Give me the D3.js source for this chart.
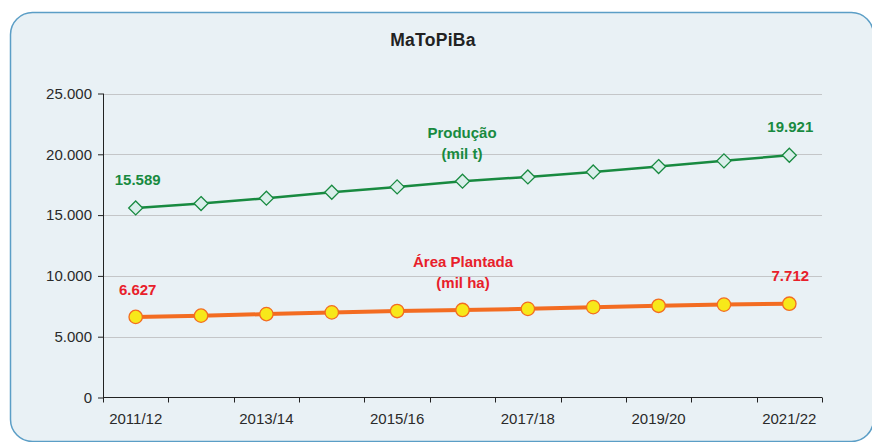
<!DOCTYPE html>
<html><head><meta charset="utf-8">
<script src="https://cdn.jsdelivr.net/npm/d3@7"></script>
<style>body{margin:0;background:#fff;} svg{display:block;font-family:"Liberation Sans",Arial,sans-serif;}</style>
</head><body>
<svg id="c" width="872" height="442"></svg>
<script>
const categories = ["2011/12","2012/13","2013/14","2014/15","2015/16","2016/17","2017/18","2018/19","2019/20","2020/21","2021/22"];
const tickLabels = ["2011/12","2013/14","2015/16","2017/18","2019/20","2021/22"];
const producao = [15589,15950,16390,16880,17320,17790,18140,18550,18990,19460,19921];
const area = [6627,6730,6860,7000,7110,7200,7290,7430,7540,7640,7712];
const yTicks = [0,5000,10000,15000,20000,25000];

const svg = d3.select("#c");
svg.append("rect").attr("x",10.5).attr("y",12.5).attr("width",863).attr("height",429).attr("rx",22)
  .attr("fill","#e9f1f5").attr("stroke","#5b9ec6").attr("stroke-width",1.5);

const x = d3.scaleBand().domain(categories).range([103,822]);
const y = d3.scaleLinear().domain([0,25000]).range([397.5,93.5]);
const fmt = v => d3.format(",")(v).replace(/,/g,".");
const cx = c => x(c) + x.bandwidth()/2;

// gridlines
svg.append("g").selectAll("line").data(yTicks.filter(d=>d>0)).join("line")
  .attr("x1",103).attr("x2",822).attr("y1",d=>Math.round(y(d))+0.5).attr("y2",d=>Math.round(y(d))+0.5)
  .attr("stroke","#c4c6c8").attr("stroke-width",1);

// y axis
const ya = svg.append("g").attr("transform","translate(103,0)")
  .call(d3.axisLeft(y).tickValues(yTicks).tickSize(5).tickPadding(6).tickFormat(fmt));
ya.select(".domain").attr("stroke","#222").attr("d","M0.5,93.5V397.5");
ya.selectAll(".tick line").attr("stroke","#222");
ya.selectAll("text").attr("font-size",15).attr("fill","#2a2a2a").attr("font-family","Liberation Sans, Arial, sans-serif");

// x axis
const xa = svg.append("g").attr("transform","translate(0,397.5)");
xa.append("line").attr("x1",103).attr("x2",822).attr("stroke","#222");
const bounds = categories.map(c=>x(c)).concat([x.range()[1]]);
xa.selectAll("line.t").data(bounds).join("line").attr("class","t")
  .attr("x1",d=>Math.round(d)+0.5).attr("x2",d=>Math.round(d)+0.5).attr("y1",0).attr("y2",5).attr("stroke","#222");
xa.selectAll("text").data(tickLabels).join("text")
  .attr("x",d=>cx(d)).attr("y",26.5).attr("text-anchor","middle").attr("font-size",15).attr("fill","#2a2a2a").text(d=>d);

// title
svg.append("text").attr("x",433).attr("y",46).attr("text-anchor","middle").attr("font-size",17.5)
  .attr("font-weight","bold").attr("fill","#222").attr("letter-spacing",0.3).text("MaToPiBa");

const line = d3.line().x((d,i)=>cx(categories[i])).y(d=>y(d));

// Produção
svg.append("path").datum(producao).attr("d",line).attr("fill","none").attr("stroke","#188a40").attr("stroke-width",2.5);
svg.append("g").selectAll("path").data(producao).join("path")
  .attr("transform",(d,i)=>`translate(${cx(categories[i])},${y(d)})`)
  .attr("d","M0,-7L7,0L0,7L-7,0Z").attr("fill","#d9eeea").attr("stroke","#188a40").attr("stroke-width",1.3);

// Área
svg.append("path").datum(area).attr("d",line).attr("fill","none").attr("stroke","#f36c21").attr("stroke-width",4);
svg.append("g").selectAll("circle").data(area).join("circle")
  .attr("cx",(d,i)=>cx(categories[i])).attr("cy",d=>y(d)).attr("r",6.7)
  .attr("fill","#f7e81a").attr("stroke","#f36c21").attr("stroke-width",1.3);

// labels
const lab = (t,xx,yy,col)=>svg.append("text").attr("x",xx).attr("y",yy).attr("text-anchor","middle")
  .attr("font-size",15).attr("font-weight","bold").attr("fill",col).text(t);
const g = "#188a40", r = "#e8202a";
lab(fmt(producao[0]), cx(categories[0])+2, 185, g);
lab(fmt(producao[10]), cx(categories[10])+1, 132, g);
lab(fmt(area[0]), cx(categories[0])+2, 295, r);
lab(fmt(area[10]), cx(categories[10])+1, 281, r);
lab("Produção", 462, 138, g);
lab("(mil t)", 462, 159, g);
lab("Área Plantada", 463, 267, r);
lab("(mil ha)", 463, 288, r);
</script>
</body></html>
